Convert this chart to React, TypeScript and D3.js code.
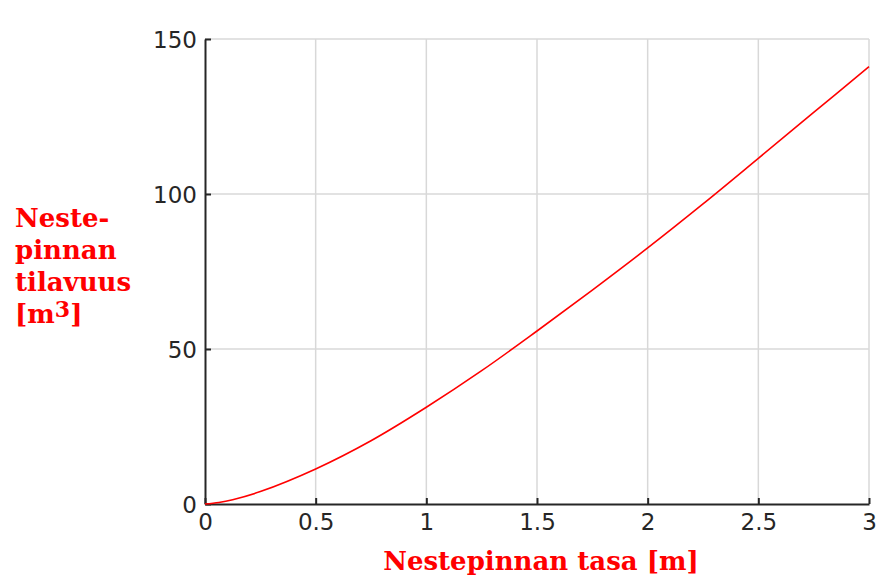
import React, { useEffect, useRef } from 'react';
import * as d3 from 'd3';

// liquid level [m] vs volume [m3]
const levels = [0, 0.0625, 0.125, 0.25, 0.5, 0.75, 1, 1.25, 1.5, 1.75, 2, 2.25, 2.5, 2.75, 3];
const volumes = [0, 0.5, 1.4, 4.0, 11.3, 20.4, 31.2, 43.0, 55.8, 69.0, 82.6, 96.8, 111.5, 126.3, 141.1];
const xTicks = [0, 0.5, 1, 1.5, 2, 2.5, 3];
const yTicks = [0, 50, 100, 150];
const yLabelLines = ['Neste-', 'pinnan', 'tilavuus'];
const xLabel = 'Nestepinnan tasa [m]';

const W = 887;
const H = 587;

const App = () => {
    const ref = useRef(null);

    useEffect(() => {
        const svg = d3.select(ref.current);
        svg.selectAll('*').remove();

        const left = 205, right = 869, top = 39, bottom = 504;
        const x = d3.scaleLinear().domain([0, 3]).range([left, right]);
        const y = d3.scaleLinear().domain([0, 150]).range([bottom, top]);
        const axisColor = '#262626';

        // grid
        svg.append('g').selectAll('line').data(xTicks.slice(1)).join('line')
            .attr('x1', d => x(d)).attr('x2', d => x(d))
            .attr('y1', top).attr('y2', bottom)
            .attr('stroke', '#d8d8d8').attr('stroke-width', 1.5);
        svg.append('g').selectAll('line').data(yTicks.slice(1)).join('line')
            .attr('x1', left).attr('x2', right)
            .attr('y1', d => y(d)).attr('y2', d => y(d))
            .attr('stroke', '#d8d8d8').attr('stroke-width', 1.5);

        // axes (ticks pointing inward)
        const xAxis = d3.axisBottom(x).tickValues(xTicks).tickSizeInner(-6).tickSizeOuter(0)
            .tickPadding(10).tickFormat(d => String(d));
        const gx = svg.append('g').attr('transform', `translate(0,${bottom})`).call(xAxis);
        const yAxis = d3.axisLeft(y).tickValues(yTicks).tickSizeInner(-6).tickSizeOuter(0)
            .tickPadding(8).tickFormat(d => String(d));
        const gy = svg.append('g').attr('transform', `translate(${left},0)`).call(yAxis);

        [gx, gy].forEach(g => {
            g.select('.domain').attr('stroke', axisColor).attr('stroke-width', 2);
            g.selectAll('.tick line').attr('stroke', axisColor).attr('stroke-width', 2);
            g.selectAll('.tick text')
                .attr('fill', axisColor)
                .style('font-family', 'DejaVu Sans')
                .style('font-size', '23px');
        });
        gy.selectAll('.tick text').attr('dy', '0.36em');
        gx.selectAll('.tick text').attr('dy', '0.68em');

        // curve
        const pts = levels.map((l, i) => [l, volumes[i]] as [number, number]);
        const line = d3.line<[number, number]>()
            .x(d => x(d[0]))
            .y(d => y(d[1]))
            .curve(d3.curveCatmullRom.alpha(0.5));
        svg.append('path')
            .datum(pts)
            .attr('d', line)
            .attr('fill', 'none')
            .attr('stroke', '#ff0000')
            .attr('stroke-width', 1.6);

        // labels
        const labelStyle = (t: any) => t
            .attr('fill', '#ff0000')
            .style('font-family', 'DejaVu Serif')
            .style('font-weight', 'bold')
            .style('font-size', '26px');

        yLabelLines.forEach((s, i) => {
            labelStyle(svg.append('text').attr('x', 15).attr('y', 227 + i * 32).text(s));
        });
        const last = labelStyle(svg.append('text').attr('x', 15).attr('y', 323));
        last.append('tspan').text('[m');
        last.append('tspan').attr('dy', -6).style('font-size', '22px').text('3');
        last.append('tspan').attr('dy', 6).text(']');

        labelStyle(svg.append('text')
            .attr('x', 541).attr('y', 570)
            .attr('text-anchor', 'middle')
            .text(xLabel));
    }, []);

    return (
        <svg ref={ref} width={W} height={H}
            style={{ position: 'absolute', left: 0, top: 0, background: '#fff' }} />
    );
};

export default App;
